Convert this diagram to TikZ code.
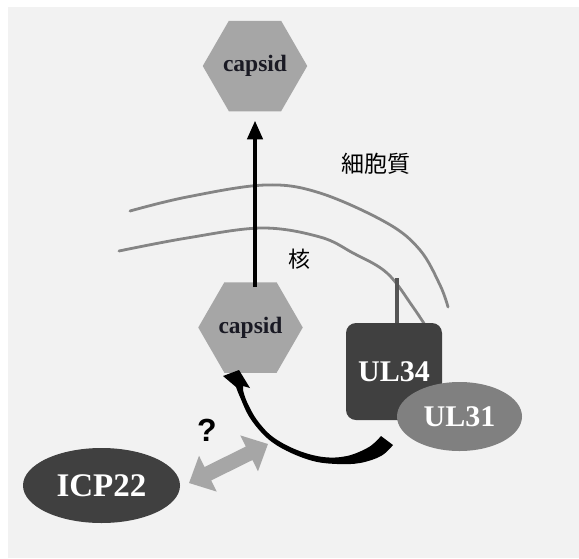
\documentclass[tikz,border=0pt]{standalone}
\usepackage{fontspec}
\setmainfont{Liberation Serif}
\newfontfamily\cjk{Noto Sans CJK JP}
\newfontfamily\qfont{Liberation Sans}
\usetikzlibrary{shapes.geometric,arrows.meta}

\definecolor{bgcol}{HTML}{F2F2F2}
\definecolor{hexcol}{HTML}{A6A6A6}
\definecolor{darkcol}{HTML}{404040}
\definecolor{midcol}{HTML}{808080}
\definecolor{memcol}{HTML}{858585}
\definecolor{stalkcol}{HTML}{555555}
\definecolor{txtcol}{HTML}{1A1A24}

\tikzset{
  capsidhex/.style={regular polygon, regular polygon sides=6, fill=hexcol,
    inner sep=0pt, text=txtcol, font=\fontsize{23.5}{23.5}\selectfont\bfseries},
  protein/.style={text=white, inner sep=0pt, font=\fontsize{30}{30}\selectfont\bfseries},
  membrane/.style={draw=memcol, line width=2.8pt, line cap=round},
  cjklabel/.style={text=black, inner sep=0pt, font=\cjk\fontsize{22}{22}\selectfont},
}

\begin{document}
\begin{tikzpicture}[x=1pt, y=-1pt]
  \useasboundingbox (0,0) rectangle (579,558);
  \fill[bgcol] (8,7) rectangle (579,558);

  % nuclear envelope: outer and inner membranes
  \draw[membrane] plot[smooth, tension=0.6] coordinates
    {(130,211) (187,197) (265,185) (320,193) (387,223) (420,250) (440,285) (448,307)};
  \draw[membrane] plot[smooth, tension=0.6] coordinates
    {(119,251) (187,238) (262,228) (320,237) (353,253) (387,273) (413,307) (432,336)};

  % capsids
  \node[capsidhex, minimum size=98pt] (cap1) at (255,66) {capsid};
  \node[capsidhex, minimum size=97pt] (cap2) at (250.5,327.5) {capsid};

  % egress of the capsid through the envelope
  \draw[line width=4.5pt, -{Triangle[length=19pt,width=15pt]},
        shorten <=-5pt, shorten >=9pt]
    (cap2.north -| cap1.south) -- (cap1.south);

  % UL34 anchored in the inner membrane
  \node[protein, fill=darkcol, rounded corners=10pt, minimum width=96pt,
        minimum height=97pt, text depth=0pt] (ul34) at (394,371.5) {UL34};
  \coordinate (anchor) at (397,278);
  \draw[stalkcol, line width=4.5pt] (anchor) -- (anchor |- ul34.north);

  \node[protein, fill=midcol, ellipse, minimum width=125pt, minimum height=69pt]
    (ul31) at (459.5,416.5) {UL31};

  \node[protein, fill=darkcol, ellipse, minimum width=157pt, minimum height=75pt,
        font=\fontsize{33}{33}\selectfont\bfseries]
    (icp22) at (101.5,485.5) {ICP22};

  % tapered curved arrow from the UL34/UL31 complex to the capsid
  \fill[black] plot[smooth, tension=0.6] coordinates
      {(393,445) (381,456) (360,463) (337,464) (313,461) (287,451) (267,438)
       (250,418) (240,397) (236,387)}
    -- (223,376) -- (239,370) -- (250,388) -- (243,386)
    -- plot[smooth, tension=0.6] coordinates
      {(243,390) (247,402) (257,420) (273,437) (297,450) (323,457) (347,456)
       (369,447) (381,436)}
    -- cycle;

  % two-headed arrow between ICP22 and the egress step
  \begin{scope}[shift={(228.5,463.5)}, rotate=26.3]
    \coordinate (dblarrow) at (0,0);
    \fill[hexcol] (44,0) -- (23,20) -- (23,7.5) -- (-23,7.5) -- (-23,20)
      -- (-44,0) -- (-23,-20) -- (-23,-7.5) -- (23,-7.5) -- (23,-20) -- cycle;
  \end{scope}
  \node[text=black, inner sep=0pt, font=\qfont\bfseries\fontsize{32}{32}\selectfont]
    (qmark) at (207,430) {?};

  % compartment labels
  \node[cjklabel, font=\cjk\fontsize{23}{23}\selectfont] (cyto) at (376,164) {細胞質};
  \node[cjklabel] (nuc) at (299,259) {核};
\end{tikzpicture}
\end{document}
